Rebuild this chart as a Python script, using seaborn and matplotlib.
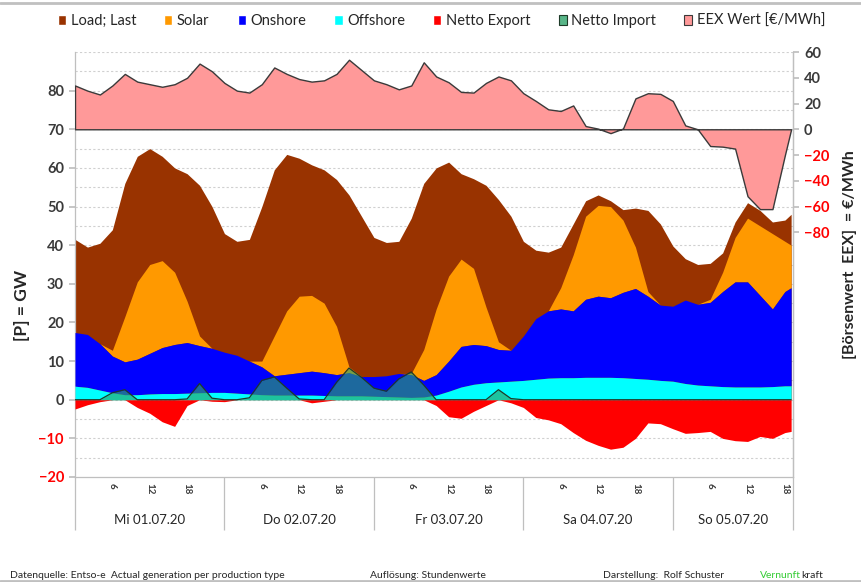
import matplotlib
matplotlib.use('Agg')
import numpy as np
import matplotlib.pyplot as plt
import matplotlib.transforms as mtransforms
from matplotlib.lines import Line2D
from matplotlib.patches import Patch
from matplotlib.ticker import FixedLocator, NullFormatter
import seaborn as sns

# hours since Mi 01.07.20 00:00, read every 2 hours off the picture
hours = list(range(0, 115, 2)) + [115]
days = ['Mi 01.07.20', 'Do 02.07.20', 'Fr 03.07.20', 'Sa 04.07.20', 'So 05.07.20']
day_ticks = [6, 12, 18]

# GW
load = [41.5, 39.5, 40.5, 44, 56, 63, 65, 63, 60, 58.5, 55.5, 50,
        43, 41, 41.5, 50, 59.5, 63.5, 62.5, 60.8, 59.5, 57, 53, 47.5,
        42, 40.7, 41, 47, 56, 60, 61.5, 58.5, 57.2, 55.5, 51.8, 47.5,
        41, 38.7, 38.2, 39.5, 45.5, 51.5, 53, 51.5, 49.2, 49.6, 49, 45.5,
        39.8, 36.5, 35, 35.3, 38, 46, 51, 49, 46, 46.5, 48]
solar = [0, 0, 0, 1.5, 11.7, 20, 23, 22.5, 18.7, 10.7, 2.5, 0,
         0, 0, 0, 1.5, 10.3, 16.4, 19.8, 19.6, 18, 12.5, 1.5, 0,
         0, 0, 0, 0.3, 8, 17, 22, 22.6, 19.7, 10, 2, 0,
         0, 0, 0, 5.5, 14.5, 21.5, 23.5, 23.6, 18.7, 10.7, 1.2, 0,
         0, 0, 0, 0.8, 5, 11.5, 16.5, 18, 19.5, 13, 11]
onshore = [13.9, 13.7, 12.0, 9.5, 8.5, 9.2, 10.5, 11.9, 12.7, 13.1, 12.2, 11.4,
           10.4, 9.8, 8.5, 7.2, 5.0, 5.4, 5.8, 6.2, 5.9, 5.5, 6.0, 5.0,
           5.1, 5.4, 6.1, 5.9, 4.3, 5.3, 7.8, 10.5, 10.3, 9.6, 8.4, 8.0,
           11.5, 15.7, 17.4, 17.8, 17.3, 20.2, 21.0, 20.6, 22.1, 23.3, 21.5, 19.5,
           19.4, 21.6, 20.9, 21.6, 24.6, 27.2, 27.2, 23.7, 20.1, 24.4, 25.4]
offshore = [3.5, 3.2, 2.5, 1.8, 1.3, 1.3, 1.5, 1.6, 1.6, 1.7, 1.8, 1.9,
            1.9, 1.7, 1.5, 1.3, 1.2, 1.2, 1.2, 1.2, 1.1, 1.0, 1.0, 1.0,
            0.9, 0.8, 0.7, 0.6, 0.7, 1.2, 2.2, 3.3, 4.0, 4.4, 4.6, 4.8,
            5.0, 5.3, 5.6, 5.7, 5.7, 5.8, 5.8, 5.8, 5.7, 5.5, 5.3, 5.0,
            4.8, 4.2, 3.8, 3.6, 3.4, 3.3, 3.3, 3.3, 3.4, 3.6, 3.6]
export = [-2.4, -1.3, -0.5, 0, 0, -2, -3.5, -5.7, -6.9, -1.5, 0, -0.4,
          -0.5, 0, 0, 0, 0, 0, 0, -0.8, -0.4, 0, 0, 0,
          0, 0, 0, 0, 0, -1.5, -4.4, -4.8, -3, -1.5, 0, -0.8,
          -2, -4.6, -5.2, -6.2, -8.5, -10.5, -11.8, -12.8, -12.3, -10, -6, -6.2,
          -7.5, -8.7, -8.5, -8.2, -10, -10.6, -10.8, -9.5, -10, -8.5, -8.2]
imports = [0, 0, 0, 1.8, 2.6, 0, 0, 0, 0, 0.2, 4.2, 0.4,
           0, 0, 0.5, 5, 5.9, 3, 0.2, 0, 0, 4.5, 8.2, 5.8,
           3, 2.2, 5.4, 7.2, 3.8, 0, 0, 0, 0, 0, 2.6, 0.3,
           0, 0, 0, 0, 0, 0, 0, 0, 0, 0, 0, 0,
           0, 0, 0, 0, 0, 0, 0, 0, 0, 0, 0]
# €/MWh
eex = [34, 30, 27, 34, 43, 37, 35, 33, 35, 40, 51, 45,
       36, 30, 28.5, 35, 48, 43, 39, 37, 38, 43, 54, 46,
       38, 35, 31, 34, 52, 41, 36.5, 29, 28.5, 36, 41, 38,
       28, 22, 15.5, 14.2, 18.5, 2.5, 0.5, -3, 0.6, 24, 28, 27.5,
       22, 3, 0, -13, -13.5, -15, -52, -62, -62, -20, 0]

sns.set_theme(style='white')
plt.rcParams['font.family'] = ['Lato', 'DejaVu Sans']

dark = '#3A3A3A'
grey = '#BFBFBF'

fig = plt.figure(figsize=(8.61, 5.82), dpi=100)
ax = fig.add_axes([75 / 861, 1 - 477 / 582, 718 / 861, 425 / 582])
xmax = 115.3

h = np.array(hours)
off_top = np.array(offshore)
on_top = off_top + np.array(onshore)
sol_top = on_top + np.array(solar)

ax.fill_between(h, 0, load, color='#993300', lw=0, zorder=2)
ax.fill_between(h, on_top, sol_top, color='#FF9900', lw=0, zorder=3)
ax.fill_between(h, off_top, on_top, color='#0000FF', lw=0, zorder=4)
ax.fill_between(h, 0, off_top, color='#00FFFF', lw=0, zorder=5)
ax.fill_between(h, export, 0, color='#FF0000', lw=0, zorder=5)
ax.fill_between(h, 0, imports, color=(0.18, 0.64, 0.42, 0.65), lw=0, zorder=6)
sns.lineplot(x=h, y=imports, ax=ax, color='#1E3A28', lw=0.9, zorder=7)

ax.set_xlim(0, xmax)
ax.set_ylim(-20, 90)
ax.set_axisbelow(True)
ax.yaxis.set_major_locator(FixedLocator(range(-20, 81, 10)))
ax.grid(False)
for v in range(-15, 91, 5):
    ax.axhline(v, color='#D0D0D0', lw=0.8, ls=(0, (2, 2)), zorder=0)

ax.spines['top'].set_visible(False)
for s in ['left', 'bottom', 'right']:
    ax.spines[s].set_color(grey)
    ax.spines[s].set_linewidth(0.9)

ax.tick_params(axis='y', which='major', left=True, length=4, color=grey,
               labelsize=10.5, labelcolor=dark, pad=4)
for lab in ax.get_yticklabels():
    lab.set_fontweight('bold')
    if float(lab.get_text().replace('\u2212', '-')) < 0:
        lab.set_color('red')

# x axis: long day separators, hour labels, day labels
ax.xaxis.set_major_locator(FixedLocator([0, 24, 48, 72, 96, xmax]))
ax.xaxis.set_major_formatter(NullFormatter())
ax.tick_params(axis='x', which='major', bottom=True, length=38, width=0.9, color=grey)
minor = [d * 24 + t for d in range(5) for t in day_ticks]
ax.xaxis.set_minor_locator(FixedLocator(minor))
ax.set_xticklabels([str(t) for d in range(5) for t in day_ticks], minor=True)
ax.tick_params(axis='x', which='minor', bottom=True, length=0, pad=4,
               labelsize=7, labelcolor=dark, labelrotation=-90)
for lab in ax.get_xticklabels(minor=True):
    lab.set_fontweight('bold')

trans = mtransforms.blended_transform_factory(ax.transData, ax.transAxes)
centers = [12, 36, 60, 84, (96 + xmax) / 2]
for c, d in zip(centers, days):
    ax.text(c, -0.101, d, transform=trans, ha='center', va='center',
            fontsize=9.5, color='#262626')

# EEX price on the secondary axis
ax2 = ax.twinx()
ax2.fill_between(h, 0, eex, facecolor='#FF9999', edgecolor='#3A3A3A', lw=1.0, zorder=3)
ax2.set_ylim(-270, 60)
ax2.set_xlim(0, xmax)
ax2.grid(False)
ax2.yaxis.set_major_locator(FixedLocator(range(-80, 61, 20)))
ax2.tick_params(axis='y', right=True, length=4, color=grey, labelsize=10.5,
                labelcolor=dark, pad=4)
for lab in ax2.get_yticklabels():
    lab.set_fontweight('bold')
    if float(lab.get_text().replace('\u2212', '-')) < 0:
        lab.set_color('red')
for s in ['top', 'left', 'bottom']:
    ax2.spines[s].set_visible(False)
ax2.spines['right'].set_color(grey)
ax2.spines['right'].set_linewidth(0.9)

fig.text(22 / 861, 1 - 305 / 582, '[P] = GW', rotation=90, ha='center', va='center',
         fontsize=12.5, fontweight='bold', color='#262626')
fig.text(850 / 861, 1 - 255 / 582, '[Börsenwert  EEX]  = €/MWh', rotation=90,
         ha='center', va='center', fontsize=11.5, fontweight='bold', color='#262626')

handles = [Patch(facecolor='#993300'), Patch(facecolor='#FF9900'),
           Patch(facecolor='#0000FF'), Patch(facecolor='#00FFFF'),
           Patch(facecolor='#FF0000'),
           Patch(facecolor=(0.18, 0.64, 0.42, 0.8), edgecolor='#1E3A28', lw=0.8),
           Patch(facecolor='#FF9999', edgecolor='#3A3A3A', lw=0.8)]
labels = ['Load; Last', 'Solar', 'Onshore', 'Offshore', 'Netto Export',
          'Netto Import', 'EEX Wert [€/MWh]']
fig.legend(handles, labels, loc='center', bbox_to_anchor=(0.513, 1 - 21 / 582),
           ncol=7, frameon=False, fontsize=10.5, handlelength=0.55, handleheight=0.75,
           handletextpad=0.3, columnspacing=1.95, labelcolor='#262626')

# footer
fy = 1 - 575 / 582
fig.text(10 / 861, fy, 'Datenquelle: Entso-e  Actual generation per production type',
         fontsize=7.5, color='#262626', va='center')
fig.text(370 / 861, fy, 'Auflösung: Stundenwerte', fontsize=7.5, color='#262626', va='center')
fig.text(603 / 861, fy, 'Darstellung:  Rolf Schuster', fontsize=7.5, color='#262626', va='center')
vt = fig.text(760 / 861, fy, 'Vernunft', fontsize=7.5, color='#33CC33', va='center')
fig.canvas.draw()
bb = vt.get_window_extent()
fig.text(bb.x1 / 861, fy, 'kraft', fontsize=7.5, color='#262626', va='center')

fig.add_artist(Line2D([0, 1], [1 - 3 / 582, 1 - 3 / 582], transform=fig.transFigure,
                      color='#C0C0C0', lw=2))
fig.add_artist(Line2D([0, 1], [1 - 581 / 582, 1 - 581 / 582], transform=fig.transFigure,
                      color='#C0C0C0', lw=2))

fig.savefig('out.png', dpi=100)
